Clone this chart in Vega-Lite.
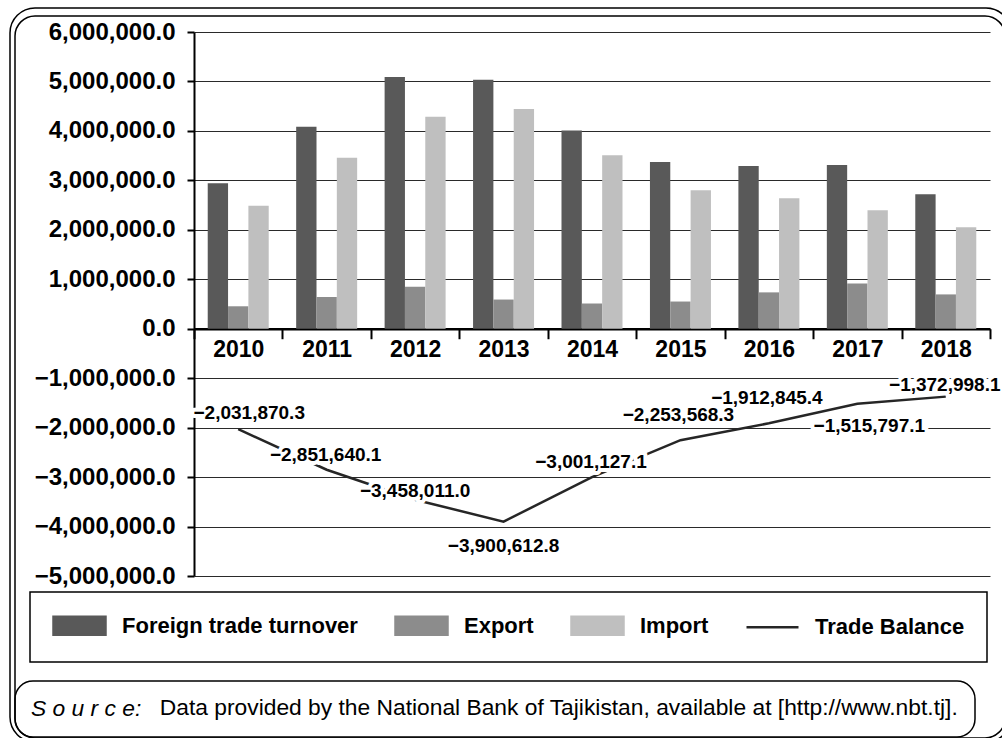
{
  "$schema": "https://vega.github.io/schema/vega-lite/v6.json",
  "autosize": {"type": "none"},
  "width": 796,
  "height": 544,
  "padding": {"left": 194, "top": 32, "right": 12, "bottom": 162},
  "background": "white",
  "config": {
    "font": "Liberation Sans",
    "view": {"stroke": null},
    "axis": {"labelColor": "black", "labelFont": "Liberation Sans", "labelFontWeight": "bold"}
  },
  "data": {
    "values": [
      {"year": "2010", "series": "Foreign trade turnover", "value": 2940000},
      {"year": "2011", "series": "Foreign trade turnover", "value": 4085000},
      {"year": "2012", "series": "Foreign trade turnover", "value": 5090000},
      {"year": "2013", "series": "Foreign trade turnover", "value": 5035000},
      {"year": "2014", "series": "Foreign trade turnover", "value": 4010000},
      {"year": "2015", "series": "Foreign trade turnover", "value": 3370000},
      {"year": "2016", "series": "Foreign trade turnover", "value": 3290000},
      {"year": "2017", "series": "Foreign trade turnover", "value": 3310000},
      {"year": "2018", "series": "Foreign trade turnover", "value": 2720000},
      {"year": "2010", "series": "Export", "value": 454000},
      {"year": "2011", "series": "Export", "value": 640000},
      {"year": "2012", "series": "Export", "value": 850000},
      {"year": "2013", "series": "Export", "value": 590000},
      {"year": "2014", "series": "Export", "value": 510000},
      {"year": "2015", "series": "Export", "value": 550000},
      {"year": "2016", "series": "Export", "value": 735000},
      {"year": "2017", "series": "Export", "value": 915000},
      {"year": "2018", "series": "Export", "value": 694000},
      {"year": "2010", "series": "Import", "value": 2485000},
      {"year": "2011", "series": "Import", "value": 3455000},
      {"year": "2012", "series": "Import", "value": 4285000},
      {"year": "2013", "series": "Import", "value": 4445000},
      {"year": "2014", "series": "Import", "value": 3510000},
      {"year": "2015", "series": "Import", "value": 2800000},
      {"year": "2016", "series": "Import", "value": 2640000},
      {"year": "2017", "series": "Import", "value": 2395000},
      {"year": "2018", "series": "Import", "value": 2050000},
      {"year": "2010", "series": "Trade Balance", "value": -2031870.3},
      {"year": "2011", "series": "Trade Balance", "value": -2851640.1},
      {"year": "2012", "series": "Trade Balance", "value": -3458011.0},
      {"year": "2013", "series": "Trade Balance", "value": -3900612.8},
      {"year": "2014", "series": "Trade Balance", "value": -3001127.1},
      {"year": "2015", "series": "Trade Balance", "value": -2253568.3},
      {"year": "2016", "series": "Trade Balance", "value": -1912845.4},
      {"year": "2017", "series": "Trade Balance", "value": -1515797.1},
      {"year": "2018", "series": "Trade Balance", "value": -1372998.1}
    ]
  },
  "encoding": {
    "x": {
      "field": "year", "type": "nominal",
      "scale": {"paddingInner": 0, "paddingOuter": 0},
      "axis": {
        "title": null, "labelAngle": 0, "offset": -247.27, "labelFontSize": 23,
        "tickBand": "extent", "tickSize": 10, "tickWidth": 2, "tickColor": "black",
        "domainColor": "black", "domainWidth": 2.5, "labelPadding": 0, "grid": false
      }
    },
    "y": {
      "field": "value", "type": "quantitative",
      "scale": {"domain": [-5000000, 6000000], "nice": false, "zero": false},
      "axis": {
        "title": null, "format": ",.1f", "labelFontSize": 24,
        "values": [-5000000, -4000000, -3000000, -2000000, -1000000, 0, 1000000, 2000000, 3000000, 4000000, 5000000, 6000000],
        "tickSize": 7, "tickWidth": 2, "tickColor": "black", "labelPadding": 12,
        "domainColor": "black", "domainWidth": 2,
        "grid": true, "gridColor": "#2a2a2a", "gridWidth": 1
      }
    }
  },
  "layer": [
    {
      "transform": [{"filter": "datum.series !== 'Trade Balance'"}],
      "mark": {"type": "bar"},
      "encoding": {
        "xOffset": {
          "field": "series", "type": "nominal",
          "scale": {"domain": ["Foreign trade turnover", "Export", "Import"], "paddingInner": 0, "paddingOuter": 0.675}
        },
        "color": {
          "field": "series", "type": "nominal",
          "scale": {
            "domain": ["Foreign trade turnover", "Export", "Import", "Trade Balance"],
            "range": ["#595959", "#8c8c8c", "#bfbfbf", "#262626"]
          },
          "legend": {
            "title": null, "orient": "none", "legendX": -164, "legendY": 560,
            "direction": "horizontal", "columns": 4,
            "strokeColor": "black", "padding": 22,
            "labelFont": "Liberation Sans", "labelFontWeight": "bold", "labelFontSize": 22,
            "labelColor": "black", "labelLimit": 500, "labelOffset": 47, "columnPadding": 32,
            "symbolSize": 400,
            "encode": {
              "legend": {"update": {"strokeWidth": {"value": 1.5}}},
              "symbols": {
                "update": {
                  "shape": {"signal": "datum.value === 'Trade Balance' ? 'M-1,0H4.2' : 'M-1,-0.9H4.2V0.9H-1Z'"},
                  "fill": {"signal": "datum.value === 'Trade Balance' ? 'transparent' : scale('color', datum.value)"},
                  "stroke": {"signal": "datum.value === 'Trade Balance' ? '#1a1a1a' : 'transparent'"},
                  "strokeWidth": {"value": 2.5},
                  "opacity": {"value": 1},
                  "size": {"value": 400}
                }
              }
            }
          }
        }
      }
    },
    {
      "transform": [{"filter": "datum.series === 'Trade Balance'"}],
      "mark": {"type": "line", "strokeWidth": 2.5},
      "encoding": {
        "color": {"field": "series", "type": "nominal"}
      }
    },
    {
      "transform": [{"filter": "datum.series === 'Trade Balance'"}],
      "encoding": {
        "text": {"field": "value", "type": "quantitative", "format": ",.1f"}
      },
      "layer": [
        {"transform": [{"filter": "datum.year === '2010'"}], "mark": {"type": "text", "dx": 11, "dy": -16, "font": "Liberation Sans", "fontWeight": "bold", "fontSize": 19, "fill": "white", "stroke": "white", "strokeWidth": 8, "strokeJoin": "round"}},
        {"transform": [{"filter": "datum.year === '2011' || datum.year === '2014'"}], "mark": {"type": "text", "dx": -1, "dy": -15, "font": "Liberation Sans", "fontWeight": "bold", "fontSize": 19, "fill": "white", "stroke": "white", "strokeWidth": 8, "strokeJoin": "round"}},
        {"transform": [{"filter": "datum.year === '2012'"}], "mark": {"type": "text", "dx": 0, "dy": -9, "font": "Liberation Sans", "fontWeight": "bold", "fontSize": 19, "fill": "white", "stroke": "white", "strokeWidth": 8, "strokeJoin": "round"}},
        {"transform": [{"filter": "datum.year === '2018'"}], "mark": {"type": "text", "dx": -1, "dy": -12, "font": "Liberation Sans", "fontWeight": "bold", "fontSize": 19, "fill": "white", "stroke": "white", "strokeWidth": 7, "strokeJoin": "round"}},
        {"transform": [{"filter": "datum.year === '2013'"}], "mark": {"type": "text", "dx": 0, "dy": 24, "font": "Liberation Sans", "fontWeight": "bold", "fontSize": 19, "fill": "white", "stroke": "white", "strokeWidth": 8, "strokeJoin": "round"}},
        {"transform": [{"filter": "datum.year === '2015' || datum.year === '2016'"}], "mark": {"type": "text", "dx": -2, "dy": -25, "font": "Liberation Sans", "fontWeight": "bold", "fontSize": 19, "fill": "white", "stroke": "white", "strokeWidth": 8, "strokeJoin": "round"}},
        {"transform": [{"filter": "datum.year === '2017'"}], "mark": {"type": "text", "dx": 12, "dy": 22, "font": "Liberation Sans", "fontWeight": "bold", "fontSize": 19, "fill": "white", "stroke": "white", "strokeWidth": 8, "strokeJoin": "round"}},
        {"transform": [{"filter": "datum.year === '2010'"}], "mark": {"type": "text", "dx": 11, "dy": -16, "font": "Liberation Sans", "fontWeight": "bold", "fontSize": 19, "fill": "black"}},
        {"transform": [{"filter": "datum.year === '2011' || datum.year === '2014'"}], "mark": {"type": "text", "dx": -1, "dy": -15, "font": "Liberation Sans", "fontWeight": "bold", "fontSize": 19, "fill": "black"}},
        {"transform": [{"filter": "datum.year === '2012'"}], "mark": {"type": "text", "dx": 0, "dy": -9, "font": "Liberation Sans", "fontWeight": "bold", "fontSize": 19, "fill": "black"}},
        {"transform": [{"filter": "datum.year === '2018'"}], "mark": {"type": "text", "dx": -1, "dy": -12, "font": "Liberation Sans", "fontWeight": "bold", "fontSize": 19, "fill": "black"}},
        {"transform": [{"filter": "datum.year === '2013'"}], "mark": {"type": "text", "dx": 0, "dy": 24, "font": "Liberation Sans", "fontWeight": "bold", "fontSize": 19, "fill": "black"}},
        {"transform": [{"filter": "datum.year === '2015' || datum.year === '2016'"}], "mark": {"type": "text", "dx": -2, "dy": -25, "font": "Liberation Sans", "fontWeight": "bold", "fontSize": 19, "fill": "black"}},
        {"transform": [{"filter": "datum.year === '2017'"}], "mark": {"type": "text", "dx": 12, "dy": 22, "font": "Liberation Sans", "fontWeight": "bold", "fontSize": 19, "fill": "black"}}
      ]
    },
    {
      "transform": [{"filter": "datum.series === 'Trade Balance'"}],
      "mark": {"type": "line", "opacity": 0},
      "encoding": {
        "strokeDash": {
          "datum": "Data provided by the National Bank of Tajikistan, available at [http://www.nbt.tj].",
          "scale": {"range": [[1, 0]]},
          "legend": {
            "title": "S o u r c e:", "titleOrient": "left", "orient": "none", "legendX": -179, "legendY": 649,
            "titleFont": "Liberation Sans", "titleFontStyle": "italic", "titleFontWeight": "normal", "titleFontSize": 22.8,
            "titleColor": "black", "titlePadding": -5,
            "labelFont": "Liberation Sans", "labelFontWeight": "normal", "labelFontSize": 22.8, "labelColor": "black",
            "labelLimit": 1000, "labelOffset": 0, "symbolSize": 1,
            "symbolOpacity": 0, "symbolStrokeColor": "transparent", "symbolFillColor": "transparent",
            "strokeColor": "black", "cornerRadius": 18, "padding": 16,
            "encode": {
              "legend": {"update": {"strokeWidth": {"value": 1.5}}},
              "symbols": {"update": {"opacity": {"value": 0}, "stroke": {"value": "transparent"}, "fill": {"value": "transparent"}}}
            }
          }
        }
      }
    },
    {
      "transform": [{"filter": "datum.series === 'Trade Balance'"}],
      "mark": {"type": "point", "opacity": 0},
      "encoding": {
        "shape": {
          "datum": "frame",
          "scale": {"range": ["M-471,-365H480A25,25,0,0,1,505,-340V344A25,25,0,0,1,480,369H-471A25,25,0,0,1,-496,344V-340A25,25,0,0,1,-471,-365Z M-471,-357H479A20,20,0,0,1,499,-337V345A20,20,0,0,1,479,365H-471A20,20,0,0,1,-491,345V-337A20,20,0,0,1,-471,-357Z"]},
          "legend": {
            "title": null, "orient": "none", "legendX": 310, "legendY": 339, "padding": 0,
            "labelExpr": "''", "labelFontSize": 1, "symbolSize": 4,
            "symbolOpacity": 1, "symbolStrokeColor": "black", "symbolFillColor": "transparent", "symbolStrokeWidth": 1.5,
            "encode": {
              "symbols": {
                "update": {
                  "opacity": {"value": 1},
                  "fill": {"value": "transparent"},
                  "stroke": {"value": "black"},
                  "strokeOpacity": {"value": 1},
                  "strokeWidth": {"value": 1.5},
                  "size": {"value": 4}
                }
              }
            }
          }
        }
      }
    }
  ]
}
